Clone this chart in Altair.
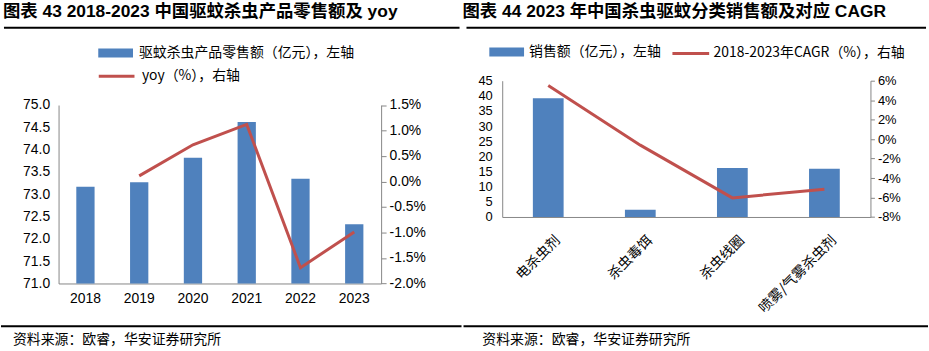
import altair as alt
import pandas as pd

# ---------------- data ----------------
years = ["2018", "2019", "2020", "2021", "2022", "2023"]
retail = [73.17, 73.27, 73.82, 74.62, 73.35, 72.33]          # 亿元
yoy = [None, 0.0011, 0.0072, 0.0112, -0.0169, -0.0099]

cats = ["电杀虫剂", "杀虫毒饵", "杀虫线圈", "喷雾/气雾杀虫剂"]
sales = [39.2, 2.4, 16.2, 15.9]                                # 亿元
cagr = [0.055, -0.0062, -0.0604, -0.0515]

retail_ticks = [71.0, 71.5, 72.0, 72.5, 73.0, 73.5, 74.0, 74.5, 75.0]
yoy_ticks = [-0.02, -0.015, -0.01, -0.005, 0.0, 0.005, 0.01, 0.015]
sales_ticks = [0, 5, 10, 15, 20, 25, 30, 35, 40, 45]
cagr_ticks = [-0.08, -0.06, -0.04, -0.02, 0.0, 0.02, 0.04, 0.06]

title_left = "图表 43 2018-2023 中国驱蚊杀虫产品零售额及 yoy"
title_right = "图表 44 2023 年中国杀虫驱蚊分类销售额及对应 CAGR"
leg_bar_left = "驱蚊杀虫产品零售额（亿元），左轴"
leg_line_left = "yoy（%），右轴"
leg_bar_right = "销售额（亿元），左轴"
leg_line_right = "2018-2023年CAGR（%），右轴"
source = ["资料来源：欧睿，华安证券研究所"]

# ---------------- style ----------------
BLUE = "#4F81BD"
RED = "#C0504D"
GREY = "#868686"
LAT = "Liberation Sans, Noto Sans CJK SC"
CJK = "Noto Sans CJK SC"
RECT = "M-1,-0.257L1,-0.257L1,0.257L-1,0.257Z"

# common plot-origin: both panels start at the same top (page y = 78)
H_LEFT = 204.3      # left plot spans 24.5 .. 204.3 inside this height
LEFT_TOP = 24.5
H_RIGHT = 137.3


def pct_expr(fmt):
    return f"(datum.value < 0 ? '-' : '') + format(abs(datum.value), '{fmt}')"


def deco(x0, x1, y_top, y_bot, sx, sy):
    one = pd.DataFrame({"t": source})
    top = alt.Chart(one).mark_rule(color="black", strokeWidth=2).encode(
        x=alt.value(x0), x2=alt.value(x1), y=alt.value(y_top))
    bot = alt.Chart(one).mark_rule(color="black", strokeWidth=2).encode(
        x=alt.value(x0 - 3), x2=alt.value(x1 + 2), y=alt.value(y_bot))
    txt = alt.Chart(one).mark_text(align="left", baseline="middle", font=CJK,
                                   fontSize=14, color="black").encode(
        x=alt.value(sx), y=alt.value(sy), text="t:N")
    return [top, bot, txt]


def leg_rect(x, y, off):
    return alt.Legend(title=None, orient="none", legendX=x, legendY=y,
                      symbolType=RECT, symbolSize=1225, symbolStrokeWidth=0,
                      symbolOpacity=1, labelFont=CJK, labelFontSize=14,
                      labelColor="black", labelOffset=off, labelLimit=0, padding=0)


def leg_line(x, y, size, off):
    return alt.Legend(title=None, orient="none", legendX=x, legendY=y,
                      symbolType="stroke", symbolSize=size, symbolStrokeWidth=3,
                      labelFont=CJK, labelFontSize=14, labelColor="black",
                      labelOffset=off, labelLimit=0, padding=0)


# ---------------- left panel ----------------
df1 = pd.DataFrame({"year": years, "retail": retail, "yoy": yoy,
                    "s1": leg_bar_left, "s2": leg_line_left})

x1 = alt.X("year:N", sort=years, title=None,
           scale=alt.Scale(paddingInner=0.66, paddingOuter=0.33),
           axis=alt.Axis(labelAngle=0, ticks=False, domainColor=GREY,
                         labelFont=LAT, labelFontSize=14, labelColor="black",
                         labelPadding=8))

bars1 = alt.Chart(df1).mark_bar().encode(
    x=x1,
    y=alt.Y("retail:Q", title=None,
            scale=alt.Scale(domain=[71, 75], nice=False, zero=False,
                            range=[H_LEFT, LEFT_TOP]),
            axis=alt.Axis(values=retail_ticks, format=".1f", ticks=False,
                          domainColor=GREY, labelFont=LAT, labelFontSize=14,
                          labelColor="black", labelPadding=9)),
    y2=alt.datum(71),
    color=alt.Color("s1:N", scale=alt.Scale(domain=[leg_bar_left], range=[BLUE]),
                    legend=leg_rect(40, -45.5, 6)),
)

line1 = alt.Chart(df1).mark_line(strokeWidth=3).encode(
    x=alt.X("year:N", sort=years),
    y=alt.Y("yoy:Q", title=None,
            scale=alt.Scale(domain=[-0.02, 0.015], nice=False, zero=False,
                            range=[H_LEFT, LEFT_TOP]),
            axis=alt.Axis(orient="right", values=yoy_ticks, labelExpr=pct_expr(".1%"),
                          tickSize=5, tickColor=GREY, domainColor=GREY,
                          labelFont=LAT, labelFontSize=14, labelColor="black",
                          labelPadding=3)),
    stroke=alt.Stroke("s2:N", scale=alt.Scale(domain=[leg_line_left], range=[RED]),
                      legend=leg_line(39, -24, 1296, 6)),
)

left = alt.layer(bars1, line1, *deco(-55, 404, -53.3, 247.5, -46, 261)).resolve_scale(
    y="independent").properties(
    width=325, height=H_LEFT,
    title=alt.TitleParams(title_left, anchor="start", font=LAT, fontSize=17.5,
                          fontWeight="bold", color="black", offset=6, dx=3))

# ---------------- right panel ----------------
df2 = pd.DataFrame({"cat": cats, "sales": sales, "cagr": cagr,
                    "s1": leg_bar_right, "s2": leg_line_right})

x2 = alt.X("cat:N", sort=cats, title=None,
           scale=alt.Scale(paddingInner=0.666, paddingOuter=0.333),
           axis=alt.Axis(labelAngle=-45, labelAlign="right", labelBaseline="top",
                         ticks=False, domainColor=GREY, labelFont=CJK, labelFontSize=14,
                         labelColor="black", labelPadding=16, labelOffset=5,
                         labelLimit=0))

bars2 = alt.Chart(df2).mark_bar().encode(
    x=x2,
    y=alt.Y("sales:Q", title=None,
            scale=alt.Scale(domain=[0, 45], nice=False),
            axis=alt.Axis(values=sales_ticks, ticks=False, domainColor=GREY,
                          labelFont=LAT, labelFontSize=13, labelColor="black",
                          labelPadding=10)),
    color=alt.Color("s1:N", scale=alt.Scale(domain=[leg_bar_right], range=[BLUE]),
                    legend=leg_rect(-13, -46.5, 5)),
)

line2 = alt.Chart(df2).mark_line(strokeWidth=3).encode(
    x=alt.X("cat:N", sort=cats),
    y=alt.Y("cagr:Q", title=None,
            scale=alt.Scale(domain=[-0.08, 0.06], nice=False, zero=False),
            axis=alt.Axis(orient="right", values=cagr_ticks, labelExpr=pct_expr(".0%"),
                          tickSize=4, tickColor=GREY, domainColor=GREY,
                          labelFont=LAT, labelFontSize=13, labelColor="black",
                          labelPadding=3)),
    stroke=alt.Stroke("s2:N", scale=alt.Scale(domain=[leg_line_right], range=[RED]),
                      legend=leg_line(170, -47.5, 1369, 3)),
)

right = alt.layer(bars2, line2, *deco(-36, 427, -53.3, 247.5, -20, 261)).resolve_scale(
    y="independent").properties(
    width=371, height=H_RIGHT,
    title=alt.TitleParams(title_right, anchor="start", font=LAT, fontSize=17.5,
                          fontWeight="bold", color="black", offset=6, dx=0))

chart = alt.hconcat(left, right, spacing=0).resolve_scale(
    color="independent", stroke="independent").resolve_legend(
    color="independent", stroke="independent").properties(
    padding={"left": 0, "top": 2, "right": 0, "bottom": 0}
).configure_view(stroke=None).configure_axis(grid=False)

chart.save("out.html", embed_options={"renderer": "svg", "actions": False})
